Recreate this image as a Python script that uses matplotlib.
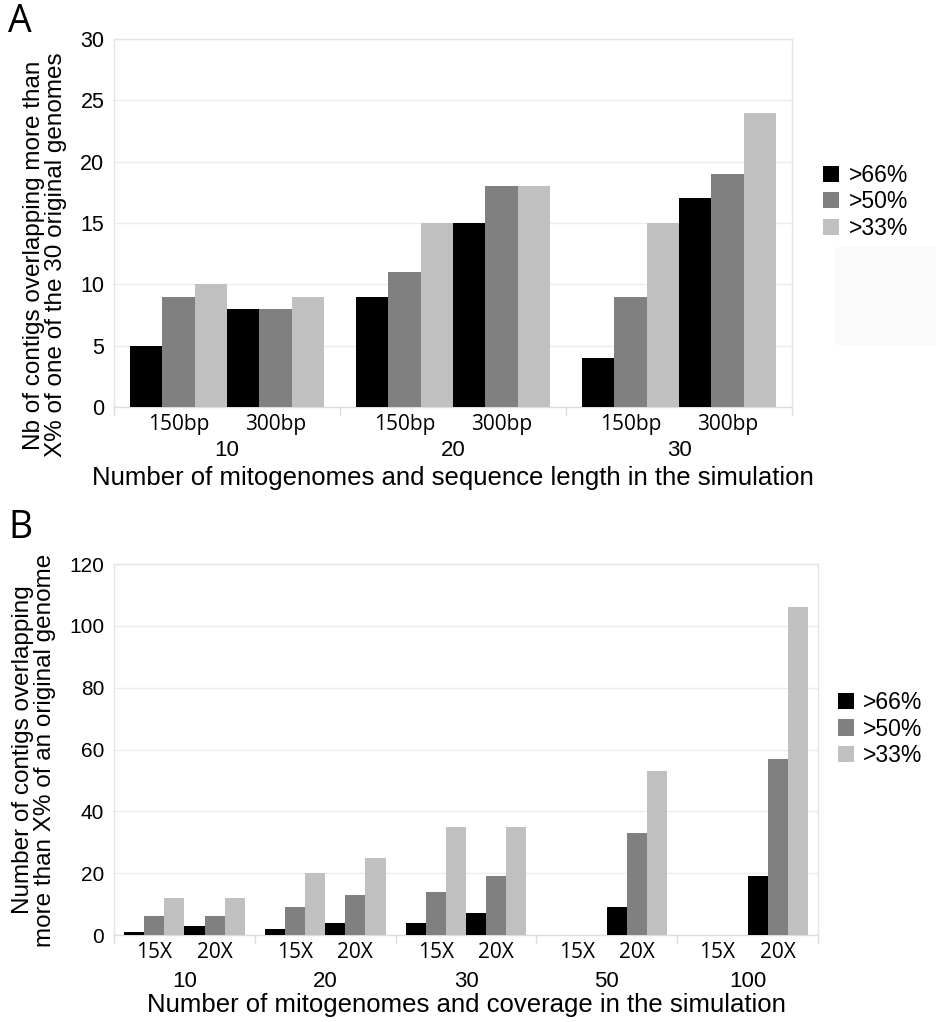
import matplotlib
matplotlib.use("Agg")
import matplotlib.pyplot as plt
import numpy as np
from matplotlib.patches import Rectangle

# ---- data ----
series = [">66%", ">50%", ">33%"]
colors = ["#000000", "#808080", "#c0c0c0"]

a_groups = ["10", "20", "30"]
a_sub = ["150bp", "300bp"]
a_66 = [5, 8, 9, 15, 4, 17]
a_50 = [9, 8, 11, 18, 9, 19]
a_33 = [10, 9, 15, 18, 15, 24]

b_groups = ["10", "20", "30", "50", "100"]
b_sub = ["15X", "20X"]
b_66 = [1, 3, 2, 4, 4, 7, 0, 9, 0, 19]
b_50 = [6, 6, 9, 13, 14, 19, 0, 33, 0, 57]
b_33 = [12, 12, 20, 25, 35, 35, 0, 53, 0, 106]

W, H = 936, 1022
fig = plt.figure(figsize=(W / 100, H / 100), dpi=100)

num_font = "Liberation Sans"
sub_font = "Open Sans"
grid_c = "#ececec"
spine_c = "#e4e4e4"


def ax_rect(x0, y0, x1, y1):
    return [x0 / W, 1 - y1 / H, (x1 - x0) / W, (y1 - y0) / H]


def panel(rect, groups, subs, vals, ymax, ystep, xlabel, sub_dy, grp_dy, xl_dy, tick_fs):
    ax = fig.add_axes(rect)
    ng = len(groups)
    for s, (v, c) in enumerate(zip(vals, colors)):
        xs = []
        for g in range(ng):
            for k in range(len(subs)):
                xs.append(g * 7 + 0.5 + k * 3 + s)
        ax.bar(xs, v, width=1.0, align="edge", color=c, linewidth=0, zorder=3, label=series[s])
    ax.set_xlim(0, 7 * ng)
    ax.set_ylim(0, ymax)
    ticks = np.arange(0, ymax + 0.1, ystep)
    ax.set_yticks(ticks)
    ax.set_yticklabels([f"{int(t)}" for t in ticks], fontsize=tick_fs, family=num_font)
    ax.tick_params(axis="y", length=0, pad=7)
    ax.set_xticks([])
    ax.grid(axis="y", color=grid_c, linewidth=1, zorder=0)
    for sp in ax.spines.values():
        sp.set_color(spine_c)
        sp.set_linewidth(1)
    ax.spines["bottom"].set_color("#dddddd")
    for g in range(ng + 1):
        ax.plot([g * 7, g * 7], [0, -0.022 * ymax], color="#dddddd", lw=1,
                clip_on=False, zorder=1)
    trans = ax.get_xaxis_transform()
    for g in range(ng):
        for k, sl in enumerate(subs):
            ax.text(g * 7 + 0.5 + k * 3 + 1.5, sub_dy, sl, transform=trans, ha="center",
                    va="center", fontsize=15, family=sub_font)
        ax.text(g * 7 + 3.5, grp_dy, groups[g], transform=trans, ha="center", va="center",
                fontsize=16, family=num_font)
    ax.text(0.5, xl_dy, xlabel, transform=ax.transAxes, ha="center", va="center",
            fontsize=18.5, family=num_font)
    return ax


axA = panel(ax_rect(114, 39, 792, 407), a_groups, a_sub, [a_66, a_50, a_33], 30, 5,
            "Number of mitogenomes and sequence length in the simulation",
            -0.047, -0.118, -0.193, 15.5)
axB = panel(ax_rect(114, 564, 818, 935), b_groups, b_sub, [b_66, b_50, b_33], 120, 20,
            "Number of mitogenomes and coverage in the simulation",
            -0.047, -0.125, -0.188, 15)

fig.text(45 / W, 1 - 255 / H,
         "Nb of contigs overlapping more than\nX% of one of the 30 original genomes",
         rotation=90, ha="center", va="center", fontsize=17.5, family=num_font,
         linespacing=1.0)
fig.text(34 / W, 1 - 750 / H,
         "Number of contigs overlapping\nmore than X% of an original genome",
         rotation=90, ha="center", va="center", fontsize=17.5, family=num_font,
         linespacing=1.0)

axA.legend(loc="center left", bbox_to_anchor=(814 / W, 1 - 202 / H), bbox_transform=fig.transFigure,
           frameon=False, prop={"family": num_font, "size": 16.5}, handlelength=0.7,
           handleheight=0.7, handletextpad=0.4, labelspacing=0.15, borderaxespad=0)
axB.legend(loc="center left", bbox_to_anchor=(829 / W, 1 - 729 / H), bbox_transform=fig.transFigure,
           frameon=False, prop={"family": num_font, "size": 16.5}, handlelength=0.7,
           handleheight=0.7, handletextpad=0.4, labelspacing=0.15, borderaxespad=0)

fig.patches.append(Rectangle((835 / W, 1 - 345 / H), 101 / W, 98 / H, transform=fig.transFigure,
                             facecolor="#fafafa", edgecolor="none", zorder=0))

fig.text(8 / W, 1 - 22 / H, "A", fontsize=27, family=sub_font, va="center", ha="left")
fig.text(8 / W, 1 - 528 / H, "B", fontsize=27, family=sub_font, va="center", ha="left")

fig.savefig("out.png", dpi=100, facecolor="white")
